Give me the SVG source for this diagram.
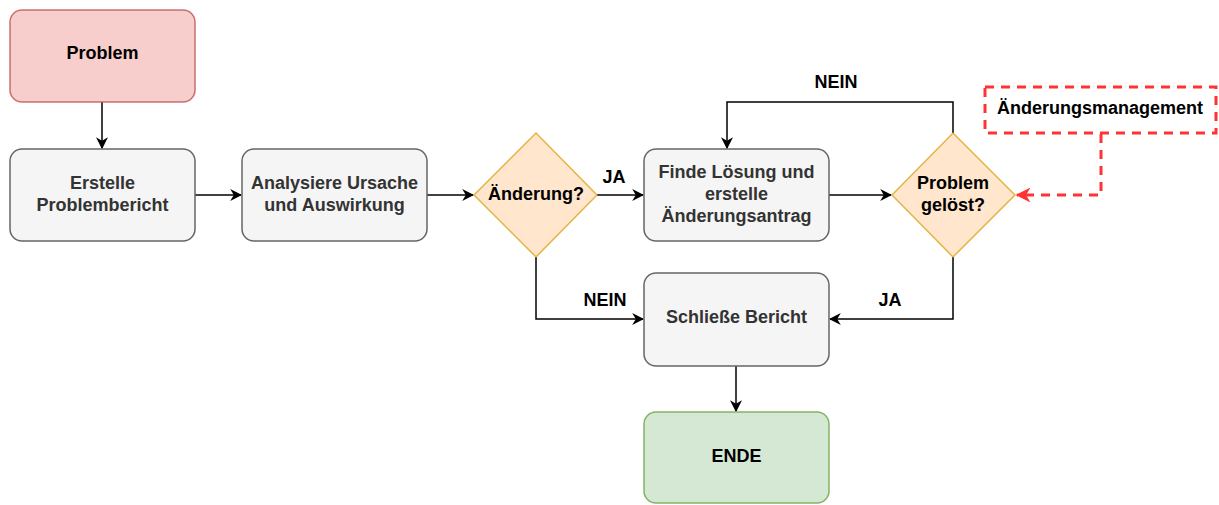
<svg xmlns="http://www.w3.org/2000/svg" width="1219" height="505" viewBox="0 0 1219 505">
<defs>
<style>
text{font-family:"Liberation Sans",Arial,Helvetica,sans-serif;font-size:18px;font-weight:bold;text-anchor:middle;dominant-baseline:central}
.gray rect{fill:#f5f5f5;stroke:#666666;stroke-width:1.5}
.gray text{fill:#333333}
.dia polygon{fill:#ffe6cc;stroke:#d79b00;stroke-width:1.5;stroke-opacity:.7}
.lbl{fill:#000}
.edge{fill:none;stroke:#000;stroke-width:1.5}
.red{fill:none;stroke:#ff3333;stroke-width:3;stroke-dasharray:9 7}
</style>
<marker id="arr" viewBox="0 0 10 10" refX="9" refY="5" markerWidth="12" markerHeight="12" markerUnits="userSpaceOnUse" orient="auto">
<path d="M0,0 L10,5 L0,10 L3,5 Z" fill="#000"/>
</marker>
<marker id="arrRed" viewBox="0 0 10 10" refX="9" refY="5" markerWidth="15" markerHeight="15" markerUnits="userSpaceOnUse" orient="auto">
<path d="M0,0 L10,5 L0,10 L3,5 Z" fill="#ff3333"/>
</marker>
</defs>
<rect width="1219" height="505" fill="#ffffff"/>
<g id="connectors">
<path class="edge" d="M102,102 V148" marker-end="url(#arr)"/>
<path class="edge" d="M195,195 H241" marker-end="url(#arr)"/>
<path class="edge" d="M427,195 H473" marker-end="url(#arr)"/>
<path class="edge" d="M597,195 H643" marker-end="url(#arr)"/>
<path class="edge" d="M829,195 H891" marker-end="url(#arr)"/>
<path class="edge" d="M953,133 V102 H727 V148" marker-end="url(#arr)"/>
<path class="edge" d="M536,257 V319 H643" marker-end="url(#arr)"/>
<path class="edge" d="M953,257 V319 H830" marker-end="url(#arr)"/>
<path class="edge" d="M736,366 V411" marker-end="url(#arr)"/>
<path class="red" d="M1101,134 V195 H1017" marker-end="url(#arrRed)"/>
<text class="lbl" x="614" y="177">JA</text>
<text class="lbl" x="836" y="82">NEIN</text>
<text class="lbl" x="605" y="300">NEIN</text>
<text class="lbl" x="890" y="300">JA</text>
</g>
<g id="problem">
<rect x="10" y="10" width="185" height="92" rx="12" fill="#f8cecc" stroke="#b85450" stroke-width="1.5" stroke-opacity=".8"/>
<text x="102.5" y="53" fill="#000">Problem</text>
</g>
<g id="erstelle" class="gray">
<rect x="10" y="149" width="185" height="92" rx="12"/>
<text x="102.5" y="183">Erstelle</text>
<text x="102.5" y="205">Problembericht</text>
</g>
<g id="analysiere" class="gray">
<rect x="242" y="149" width="185" height="92" rx="12"/>
<text x="334.5" y="183">Analysiere Ursache</text>
<text x="334.5" y="205">und Auswirkung</text>
</g>
<g id="aenderung" class="dia">
<polygon points="536,133 597,195 536,257 474,195"/>
<text x="536" y="194" fill="#000">Änderung?</text>
</g>
<g id="finde" class="gray">
<rect x="644" y="149" width="185" height="92" rx="12"/>
<text x="736.5" y="172">Finde Lösung und</text>
<text x="736.5" y="194">erstelle</text>
<text x="736.5" y="216">Änderungsantrag</text>
</g>
<g id="geloest" class="dia">
<polygon points="953,133 1015,195 953,257 892,195"/>
<text x="953" y="183" fill="#000">Problem</text>
<text x="953" y="205" fill="#000">gelöst?</text>
</g>
<g id="management">
<rect x="985" y="87" width="231" height="46" fill="#ffffff" class="red"/>
<text x="1100" y="108" fill="#000">Änderungsmanagement</text>
</g>
<g id="schliesse" class="gray">
<rect x="644" y="273" width="185" height="93" rx="12"/>
<text x="736.5" y="317">Schließe Bericht</text>
</g>
<g id="ende">
<rect x="644" y="412" width="185" height="91" rx="12" fill="#d5e8d4" stroke="#82b366" stroke-width="1.5"/>
<text x="736.5" y="456" fill="#000">ENDE</text>
</g>
</svg>
